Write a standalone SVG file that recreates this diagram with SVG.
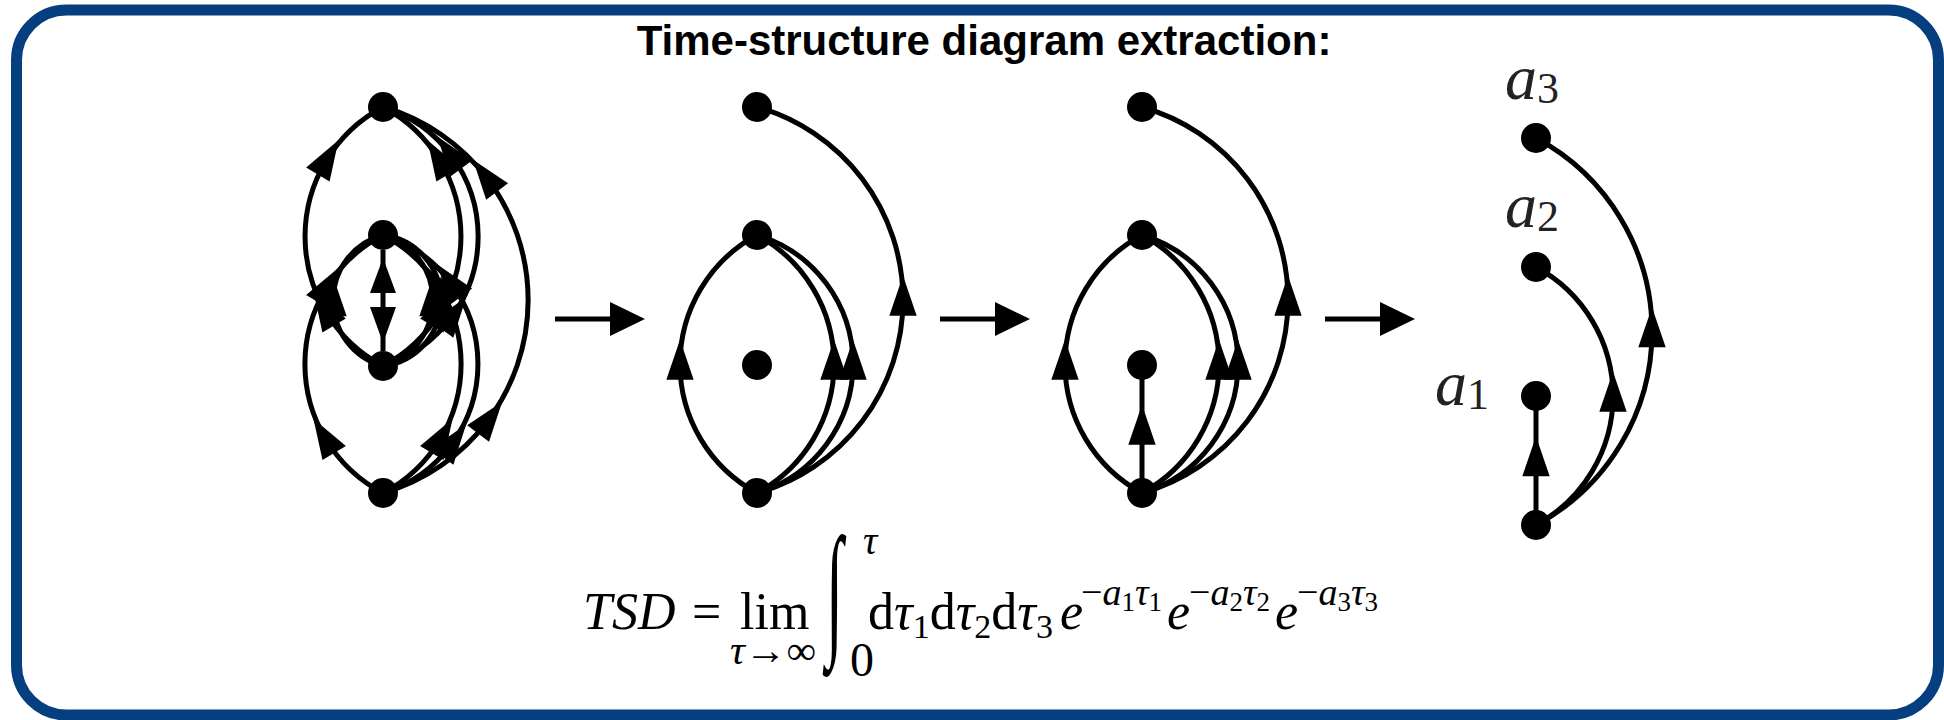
<svg xmlns="http://www.w3.org/2000/svg" width="1944" height="720" viewBox="0 0 1944 720">
<defs>
<style>
.edge{fill:none;stroke:#000;stroke-width:5;marker-mid:url(#ah)}
.edge0{fill:none;stroke:#000;stroke-width:5}
.node{fill:#000}
.title{font-family:"Liberation Sans",Arial,sans-serif;font-weight:bold;font-size:42px;fill:#000}
.m{font-family:"Liberation Serif","Times New Roman",serif;font-size:52px;fill:#000}
.lab{font-family:"Liberation Serif","Times New Roman",serif;font-size:64px;font-style:italic;fill:#222}
.it{font-style:italic}
.sup{font-size:38px}
.ss{font-size:27px}
</style>
<marker id="ah" markerUnits="userSpaceOnUse" orient="auto" markerWidth="40" markerHeight="28" viewBox="0 0 38 26" refX="15" refY="13" overflow="visible">
<path d="M0,0 L38,13 L0,26 z" fill="#000"/>
</marker>
</defs>
<rect x="16.5" y="10" width="1922" height="705" rx="50" ry="50" fill="#fff" stroke="#063f7f" stroke-width="11"/>
<text class="title" x="984" y="55" text-anchor="middle">Time-structure diagram extraction:</text>

<g id="connectors">
<!-- diagram 1 -->
<path class="edge" d="M383,366 A146.5,146.5 0 0 1 326,312 A146.5,146.5 0 0 1 326,161 A146.5,146.5 0 0 1 383,107"/>
<path class="edge" d="M383,493 A145.7,145.7 0 0 1 326,439.5 A145.7,145.7 0 0 1 326,288.5 A145.7,145.7 0 0 1 383,235"/>
<path class="edge" d="M383,366 A146.5,146.5 0 0 0 440,312 A146.5,146.5 0 0 0 440,161 A146.5,146.5 0 0 0 383,107"/>
<path class="edge" d="M383,366 A135.8,135.8 0 0 0 451.7,317 A135.8,135.8 0 0 0 451.7,156 A135.8,135.8 0 0 0 383,107"/>
<path class="edge" d="M383,493 A145.7,145.7 0 0 0 440,439.5 A145.7,145.7 0 0 0 440,288.5 A145.7,145.7 0 0 0 383,235"/>
<path class="edge" d="M383,493 A135.1,135.1 0 0 0 451.7,444 A135.1,135.1 0 0 0 451.7,284 A135.1,135.1 0 0 0 383,235"/>
<path class="edge" d="M383,493 A200.9,200.9 0 0 0 487.6,421 A200.9,200.9 0 0 0 487.6,179 A200.9,200.9 0 0 0 383,107"/>
<path class="edge" d="M383,366 A67.9,67.9 0 0 1 333,300.5 A67.9,67.9 0 0 1 383,235"/>
<path class="edge" d="M383,366 A67.9,67.9 0 0 0 433,300.5 A67.9,67.9 0 0 0 383,235"/>
<path class="edge" d="M383,366 A66,66 0 0 0 441,300.5 A66,66 0 0 0 383,235"/>
<path class="edge0" d="M383,250 L383,351"/>
<polygon points="383,258 370,293 396,293" fill="#000"/>
<polygon points="383,343 370,307 396,307" fill="#000"/>
<!-- arrows between diagrams -->
<path class="edge0" d="M555,319 L614,319" stroke-width="9"/>
<polygon points="610,302 645,319 610,336" fill="#000"/>
<path class="edge0" d="M940,319 L999,319" stroke-width="9"/>
<polygon points="995,302 1030,319 995,336" fill="#000"/>
<path class="edge0" d="M1325,319 L1384,319" stroke-width="9"/>
<polygon points="1380,302 1415,319 1380,336" fill="#000"/>
<!-- diagram 2 -->
<path class="edge" d="M757,493 A146.6,146.6 0 0 1 680,364 A146.6,146.6 0 0 1 757,235"/>
<path class="edge" d="M757,493 A146.6,146.6 0 0 0 834,364 A146.6,146.6 0 0 0 757,235"/>
<path class="edge" d="M757,493 A134.7,134.7 0 0 0 853,364 A134.7,134.7 0 0 0 757,235"/>
<path class="edge" d="M757,493 A200.6,200.6 0 0 0 903,300 A200.6,200.6 0 0 0 757,107"/>
<!-- diagram 3 -->
<path class="edge" d="M1142,493 A146.6,146.6 0 0 1 1065,364 A146.6,146.6 0 0 1 1142,235"/>
<path class="edge" d="M1142,493 A146.6,146.6 0 0 0 1219,364 A146.6,146.6 0 0 0 1142,235"/>
<path class="edge" d="M1142,493 A134.7,134.7 0 0 0 1238,364 A134.7,134.7 0 0 0 1142,235"/>
<path class="edge" d="M1142,493 A200.6,200.6 0 0 0 1288,300 A200.6,200.6 0 0 0 1142,107"/>
<path class="edge" d="M1142,493 L1142,429 L1142,365"/>
<!-- diagram 4 -->
<path class="edge" d="M1536,525 L1536,460.5 L1536,396"/>
<path class="edge" d="M1536,525 A146.6,146.6 0 0 0 1613,396 A146.6,146.6 0 0 0 1536,267"/>
<path class="edge" d="M1536,525 A219.4,219.4 0 0 0 1652,331.5 A219.4,219.4 0 0 0 1536,138"/>
</g>

<g id="d1-A"><circle class="node" cx="383" cy="107" r="15"/></g>
<g id="d1-B"><circle class="node" cx="383" cy="235" r="15"/></g>
<g id="d1-C"><circle class="node" cx="383" cy="366" r="15"/></g>
<g id="d1-D"><circle class="node" cx="383" cy="493" r="15"/></g>
<g id="d2-A"><circle class="node" cx="757" cy="107" r="15"/></g>
<g id="d2-B"><circle class="node" cx="757" cy="235" r="15"/></g>
<g id="d2-C"><circle class="node" cx="757" cy="365" r="15"/></g>
<g id="d2-D"><circle class="node" cx="757" cy="493" r="15"/></g>
<g id="d3-A"><circle class="node" cx="1142" cy="107" r="15"/></g>
<g id="d3-B"><circle class="node" cx="1142" cy="235" r="15"/></g>
<g id="d3-C"><circle class="node" cx="1142" cy="365" r="15"/></g>
<g id="d3-D"><circle class="node" cx="1142" cy="493" r="15"/></g>
<g id="d4-a3"><circle class="node" cx="1536" cy="138" r="15"/><text class="lab" x="1505" y="99">a<tspan font-size="44" font-style="normal" dy="4">3</tspan></text></g>
<g id="d4-a2"><circle class="node" cx="1536" cy="267" r="15"/><text class="lab" x="1505" y="227">a<tspan font-size="44" font-style="normal" dy="4">2</tspan></text></g>
<g id="d4-a1"><circle class="node" cx="1536" cy="396" r="15"/><text class="lab" x="1435" y="405">a<tspan font-size="44" font-style="normal" dy="4">1</tspan></text></g>
<g id="d4-D"><circle class="node" cx="1536" cy="525" r="15"/></g>

<g id="formula">
<text class="m it" x="583" y="629">TSD</text>
<text class="m" x="692" y="629">=</text>
<text class="m" x="740" y="629">lim</text>
<text class="m" x="773" y="664" style="font-size:40px" text-anchor="middle" textLength="86" lengthAdjust="spacingAndGlyphs"><tspan class="it">τ</tspan>→∞</text>
<text class="m" transform="translate(826,637.6) scale(1.2,2.8)" x="0" y="0">∫</text>
<text class="m it" x="863" y="554" style="font-size:40px">τ</text>
<text class="m" x="850" y="676" style="font-size:48px">0</text>
<text class="m" x="868" y="629">d<tspan class="it">τ</tspan><tspan font-size="34" dy="9">1</tspan><tspan dy="-9">d</tspan><tspan class="it">τ</tspan><tspan font-size="34" dy="9">2</tspan><tspan dy="-9">d</tspan><tspan class="it">τ</tspan><tspan font-size="34" dy="9">3</tspan></text>
<text class="m it" x="1060" y="629">e</text>
<text class="m sup" x="1081" y="605">−<tspan class="it">a</tspan><tspan class="ss" dy="6">1</tspan><tspan class="it" dy="-6">τ</tspan><tspan class="ss" dy="6">1</tspan></text>
<text class="m it" x="1167" y="629">e</text>
<text class="m sup" x="1189" y="605">−<tspan class="it">a</tspan><tspan class="ss" dy="6">2</tspan><tspan class="it" dy="-6">τ</tspan><tspan class="ss" dy="6">2</tspan></text>
<text class="m it" x="1275" y="629">e</text>
<text class="m sup" x="1297" y="605">−<tspan class="it">a</tspan><tspan class="ss" dy="6">3</tspan><tspan class="it" dy="-6">τ</tspan><tspan class="ss" dy="6">3</tspan></text>
</g>
</svg>
